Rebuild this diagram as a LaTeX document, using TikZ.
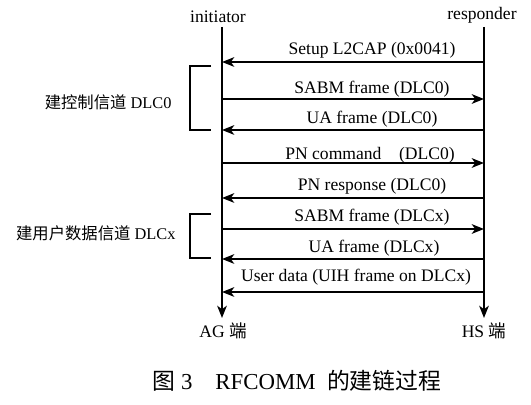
\documentclass[tikz,border=0pt]{standalone}
\usepackage{fontspec}
\setmainfont{Liberation Serif}
\newfontfamily\cjk{Noto Sans CJK SC}
\usetikzlibrary{positioning, arrows.meta}

\begin{document}
\begin{tikzpicture}[>={Stealth[length=7pt,width=5.5pt,inset=2pt]}, x=0.02cm, y=-0.02cm, line width=0.8pt,
    msg/.style={font=\fontsize{10}{11}\selectfont},
    grp/.style={font=\fontsize{9.3}{10}\selectfont, anchor=east}]
    \useasboundingbox (0,0) rectangle (531,405);

    % Hai đường thời gian
    \node[msg] (ini) at (218,17) {initiator};
    \node[msg] (res) at (482,15) {responder};
    \coordinate (itop) at (222,27);
    \coordinate (ibot) at (222,318);
    \coordinate (rtop) at (484,27);
    \coordinate (rbot) at (484,318);
    \draw[->] (itop) -- (ibot);
    \draw[->] (rtop) -- (rbot);
    \node[msg] (ag) at (223,331) {AG {\cjk 端}};
    \node[msg] (hs) at (484,331) {HS {\cjk 端}};

    % Các điểm đầu mút của thông điệp
    \foreach \n/\y in {1/62, 2/99, 3/130, 4/163, 5/198, 6/229, 7/259, 8/292} {
        \coordinate (i\n) at (222,\y);
        \coordinate (r\n) at (484,\y);
    }

    % Thông điệp
    \draw[->] (r1) -- (i1);
    \node[msg] (m1) at (372,50) {Setup L2CAP (0x0041)};
    \draw[->] (i2) -- (r2);
    \node[msg] (m2) at (372,89) {SABM frame (DLC0)};
    \draw[->] (r3) -- (i3);
    \node[msg] (m3) at (372,119) {UA frame (DLC0)};
    \draw[->] (i4) -- (r4);
    \node[msg] (m4) at (370,155) {PN command\quad(DLC0)};
    \draw[->] (r5) -- (i5);
    \node[msg] (m5) at (372,186) {PN response (DLC0)};
    \draw[->] (i6) -- (r6);
    \node[msg] (m6) at (372,217) {SABM frame (DLCx)};
    \draw[->] (r7) -- (i7);
    \node[msg] (m7) at (374,248) {UA frame (DLCx)};
    \draw[->] (r8) -- (i8);
    \node[msg] (m8) at (356,277) {User data (UIH frame on DLCx)};

    % Ngoặc nhóm
    \draw (211,66) -- (190,66) -- (190,130) -- (211,130);
    \node[grp] (g1) at (178,102) {{\cjk 建控制信道} DLC0};
    \draw (211,214) -- (190,214) -- (190,258) -- (211,258);
    \node[grp] (g2) at (182,233) {{\cjk 建用户数据信道} DLCx};

    % Chú thích hình
    \node[font=\fontsize{13}{15}\selectfont] (cap) at (297,381) {{\cjk 图} 3\quad RFCOMM\enspace{\cjk 的建链过程}};
\end{tikzpicture}
\end{document}
